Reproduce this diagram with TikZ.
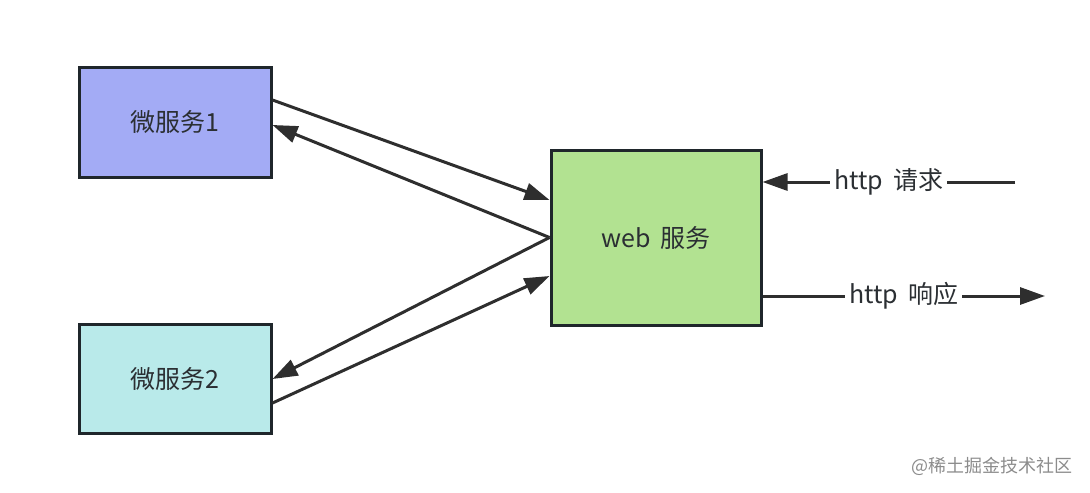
\documentclass[tikz,border=0pt]{standalone}
\usepackage{fontspec}
\setmainfont{Noto Sans CJK SC}
\usepackage{xcolor}
\usetikzlibrary{arrows.meta,positioning}
\definecolor{svcblue}{HTML}{A3ABF5}
\definecolor{svccyan}{HTML}{B9EAEA}
\definecolor{webgreen}{HTML}{B2E291}
\definecolor{edgedark}{HTML}{1F262B}
\definecolor{linedark}{HTML}{2E2E2E}
\definecolor{labeldark}{HTML}{2B2F33}

\begin{document}
\begin{tikzpicture}[x=0.5pt, y=-0.5pt, service/.style={draw=edgedark, line width=1.5pt, minimum width=96pt, minimum height=54.5pt, text=labeldark, font=\fontsize{12.5}{15}\selectfont}, arrow/.style={-{Triangle[length=12.5pt,width=8.5pt]}, line width=1.5pt, draw=linedark}, label/.style={fill=white, inner sep=2pt, text=labeldark, font=\fontsize{12.5}{15}\selectfont}]
\useasboundingbox (0,0) rectangle (1090,492);
\node[service, fill=svcblue] (svc1) at (175,122.5) {微服务1};
\node[service, fill=svccyan] (svc2) at (175,379) {微服务2};
\node[service, fill=webgreen, minimum width=105pt, minimum height=87.5pt] (web) at (656,237.5) {web\, 服务};
\coordinate (reqin) at (1015,182);
\coordinate (respout) at (1045,296);
\draw[arrow] ([yshift=11.25pt]svc1.east) -- ([yshift=18.75pt]web.west);
\draw[arrow] (web.west) -- ([yshift=-1.25pt]svc1.east);
\draw[arrow] (web.west) -- (svc2.east);
\draw[arrow] ([yshift=-12pt]svc2.east) -- ([yshift=-19.25pt]web.west);
\draw[arrow] (reqin) -- (web.east |- reqin) node[label, midway] (req) {http\, 请求};
\draw[arrow] (web.east |- respout) -- (respout) node[label, midway] (resp) {http\, 响应};
\node[text=black!45, font=\fontsize{9}{11}\selectfont] (mark) at (992,466) {@稀土掘金技术社区};
\end{tikzpicture}
\end{document}
